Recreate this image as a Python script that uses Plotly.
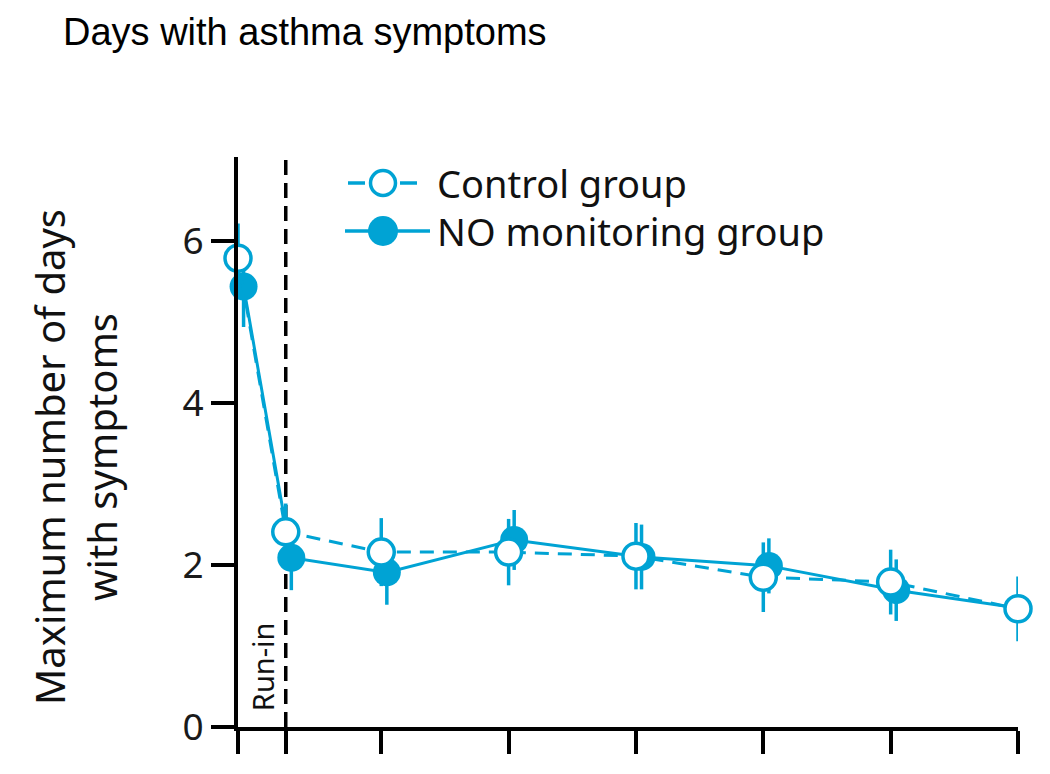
import plotly.graph_objects as go

# Data (weeks relative to randomisation; run-in starts at -3)
weeks = [-3, 0, 6, 14, 22, 30, 38, 46]
control_vals = [5.79, 2.41, 2.16, 2.16, 2.11, 1.85, 1.79, 1.46]
control_err = [0.43, 0.35, 0.42, 0.41, 0.41, 0.43, 0.40, 0.40]
no_vals = [5.44, 2.09, 1.91, 2.31, 2.10, 1.99, 1.69, 1.46]
no_err = [0.50, 0.40, 0.40, 0.37, 0.40, 0.34, 0.38, 0.40]
y_ticks = [0, 2, 4, 6]

BLUE = "#00A3D4"
DODGE = 0.35  # horizontal dodge (weeks) for the NO monitoring group
TXT = "Noto Sans"
OFF = 8  # page body margin offset

fig = go.Figure()

fig.add_trace(go.Scatter(
    x=[w + DODGE for w in weeks], y=no_vals, mode="lines+markers",
    name="NO monitoring group",
    line=dict(color=BLUE, width=3),
    marker=dict(symbol="circle", size=28, color=BLUE, line=dict(width=0)),
    error_y=dict(type="data", array=no_err, color=BLUE, thickness=3.5, width=0),
    cliponaxis=False, showlegend=False,
))
fig.add_trace(go.Scatter(
    x=weeks, y=control_vals, mode="lines+markers",
    name="Control group",
    line=dict(color=BLUE, width=3, dash="14px,9px"),
    marker=dict(symbol="circle", size=26, color="white", line=dict(width=3.5, color=BLUE)),
    error_y=dict(type="data", array=control_err, color=BLUE, thickness=3.5, width=0),
    cliponaxis=False, showlegend=False,
))

# run-in end marker
fig.add_shape(type="line", xref="x", yref="paper", x0=0, x1=0, y0=0, y1=1,
              line=dict(color="black", width=3.5, dash="15px,8px"), layer="below")
fig.add_annotation(x=-1.5, y=0.025, xref="x", yref="paper", text="Run-in",
                   textangle=-90, showarrow=False, xanchor="center", yanchor="bottom",
                   font=dict(family=TXT, size=29, color="#111"))

# custom legend (pixel helpers relative to the plot area)
W, H = 780.0, 570.0
def px(xp):
    return (xp - 238) / W
def py(yp):
    return (727 - yp) / H

rows = [("Control group", True, False, 183, 12.5),
        ("NO monitoring group", False, True, 231, 15)]
for label, dashed, filled, yc, r in rows:
    if dashed:
        fig.add_shape(type="line", xref="paper", yref="paper", x0=px(348), x1=px(365),
                      y0=py(yc), y1=py(yc), line=dict(color=BLUE, width=3.5))
        fig.add_shape(type="line", xref="paper", yref="paper", x0=px(400), x1=px(417),
                      y0=py(yc), y1=py(yc), line=dict(color=BLUE, width=3.5))
    else:
        fig.add_shape(type="line", xref="paper", yref="paper", x0=px(345), x1=px(430),
                      y0=py(yc), y1=py(yc), line=dict(color=BLUE, width=3.5))
    fig.add_shape(type="circle", xref="paper", yref="paper",
                  x0=px(383 - r), x1=px(383 + r), y0=py(yc + r), y1=py(yc - r),
                  fillcolor=BLUE if filled else "white",
                  line=dict(color=BLUE, width=0 if filled else 3.5))
    fig.add_annotation(x=px(435), y=py(yc), xref="paper", yref="paper", text=label,
                       showarrow=False, xanchor="left", yanchor="middle",
                       font=dict(family=TXT, size=38, color="#111"))

# y-axis title
fig.add_annotation(x=px(75), y=py(457), xref="paper", yref="paper",
                   text="Maximum number of days<br>with symptoms", textangle=-90,
                   showarrow=False, xanchor="center", yanchor="middle",
                   font=dict(family=TXT, size=40, color="#111"))

fig.update_layout(
    width=1050, height=774,
    margin=dict(l=238 - OFF, r=32 + OFF, t=157 - OFF, b=47 + OFF),
    paper_bgcolor="white", plot_bgcolor="white",
    title=dict(text="Days with asthma symptoms", x=(63 - OFF) / 1050, xanchor="left",
               y=1 - (32 - OFF) / 774, yanchor="middle", xref="container", yref="container",
               font=dict(family="Liberation Sans, Arial", size=38, color="black")),
    xaxis=dict(range=[-3, 46], tickvals=weeks, showticklabels=False,
               ticks="outside", ticklen=23, tickwidth=3.5, tickcolor="black",
               showline=True, linecolor="black", linewidth=4,
               showgrid=False, zeroline=False),
    yaxis=dict(range=[0, 7.04], tickvals=y_ticks, ticks="outside", ticklen=23,
               tickwidth=3.5, tickcolor="black", showline=True, linecolor="black",
               linewidth=4, showgrid=False, zeroline=False,
               tickfont=dict(family=TXT, size=37, color="#1a1a1a")),
    showlegend=False,
)

fig.write_html("out.html")
